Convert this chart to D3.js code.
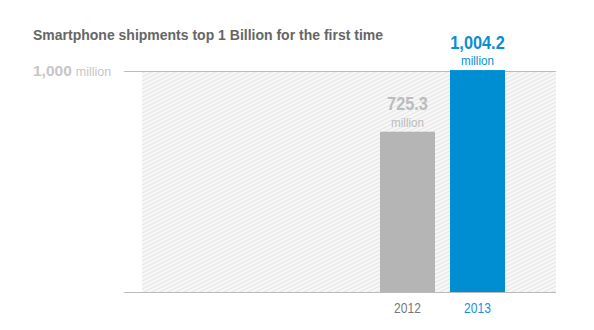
<!DOCTYPE html>
<html>
<head>
<meta charset="utf-8">
<script src="https://cdn.jsdelivr.net/npm/d3@7"></script>
<style>
  html, body { margin: 0; padding: 0; background: #fff; }
  svg { display: block; font-family: "Liberation Sans", Arial, sans-serif; }
</style>
</head>
<body>
<svg id="chart" width="594" height="330"></svg>
<script>
// Worldwide smartphone shipments, millions of units
const years = ["2012", "2013"];
const shipments = [725.3, 1004.2];
const gridValue = [1000];
const title = "Smartphone shipments top 1 Billion for the first time";

const svg = d3.select("#chart");
const width = 594, height = 330;
const plotLeft = 142, plotRight = 556;
const baseY = 292;
const condense = 0.86; // horizontal squeeze to get a condensed sans look

const y = d3.scaleLinear().domain([0, 1000]).range([baseY, 71]);
const x = d3.scaleBand()
  .domain(years)
  .range([380, 505])
  .paddingInner(0.214)
  .paddingOuter(0);

const barColor = { "2012": "#b5b5b5", "2013": "#008ed3" };
const labelColor = { "2012": "#bcbcbc", "2013": "#0a8ed2" };
const yearColor = { "2012": "#777777", "2013": "#1a90d4" };

// Diagonal hatching for the plot background
const defs = svg.append("defs");
const pat = defs.append("pattern")
  .attr("id", "hatch")
  .attr("patternUnits", "userSpaceOnUse")
  .attr("width", 8).attr("height", 4);
pat.append("rect").attr("width", 8).attr("height", 4).attr("fill", "#f8f8f8");
pat.append("path")
  .attr("d", "M-1,4.5 L9,-0.5 M-9,4.5 L1,-0.5 M7,8.5 L17,3.5 M-1,8.5 L9,3.5 M-1,0.5 L9,-4.5")
  .attr("stroke", "#e8e8e8").attr("stroke-width", 1.2);

svg.append("rect")
  .attr("x", plotLeft).attr("y", y(1000) + 1)
  .attr("width", plotRight - plotLeft)
  .attr("height", baseY - y(1000) - 1)
  .attr("fill", "url(#hatch)");

// Title
svg.append("text")
  .attr("x", 33).attr("y", 40)
  .attr("fill", "#666")
  .attr("font-weight", "bold")
  .attr("font-size", 15)
  .attr("textLength", 350)
  .attr("lengthAdjust", "spacingAndGlyphs")
  .text(title);

// Reference line at 1,000 million
svg.selectAll("line.grid").data(gridValue).enter().append("line")
  .attr("class", "grid")
  .attr("x1", 124).attr("x2", plotRight)
  .attr("y1", d => y(d) + 0.5).attr("y2", d => y(d) + 0.5)
  .attr("stroke", "#bbbbbb").attr("stroke-width", 1);

const gl = svg.selectAll("text.gridlabel").data(gridValue).enter().append("text")
  .attr("class", "gridlabel")
  .attr("x", 33).attr("y", d => y(d) + 4.5);
gl.append("tspan")
  .attr("font-weight", "bold").attr("font-size", 15.5).attr("fill", "#c6c6c6")
  .text(d => d3.format(",")(d));
gl.append("tspan")
  .attr("font-size", 12.5).attr("fill", "#c6c6c6").attr("dx", 4)
  .text("million");

// Bars
svg.selectAll("rect.bar").data(years).enter().append("rect")
  .attr("class", "bar")
  .attr("x", d => x(d))
  .attr("y", (d, i) => y(shipments[i]))
  .attr("width", x.bandwidth())
  .attr("height", (d, i) => baseY - y(shipments[i]))
  .attr("fill", d => barColor[d]);

// Baseline
svg.append("line")
  .attr("x1", 124).attr("x2", plotRight)
  .attr("y1", baseY + 0.5).attr("y2", baseY + 0.5)
  .attr("stroke", "#bbbbbb").attr("stroke-width", 1);

const cx = d => x(d) + x.bandwidth() / 2;

// Value labels above bars
svg.selectAll("g.value").data(years).enter().append("g")
  .attr("class", "value")
  .attr("transform", (d, i) => `translate(${cx(d)},${y(shipments[i]) - 21.5}) scale(${condense},1)`)
  .append("text")
  .attr("text-anchor", "middle")
  .attr("font-weight", "bold").attr("font-size", 19)
  .attr("fill", d => labelColor[d])
  .text((d, i) => d3.format(",.1f")(shipments[i]));

svg.selectAll("g.unit").data(years).enter().append("g")
  .attr("class", "unit")
  .attr("transform", (d, i) => `translate(${cx(d)},${y(shipments[i]) - 5}) scale(${condense},1)`)
  .append("text")
  .attr("text-anchor", "middle")
  .attr("font-size", 13.5)
  .attr("fill", d => labelColor[d])
  .text("million");

// Year labels
svg.selectAll("g.year").data(years).enter().append("g")
  .attr("class", "year")
  .attr("transform", d => `translate(${cx(d)},${baseY + 21}) scale(${condense},1)`)
  .append("text")
  .attr("text-anchor", "middle")
  .attr("font-size", 14)
  .attr("fill", d => yearColor[d])
  .text(d => d);
</script>
</body>
</html>
